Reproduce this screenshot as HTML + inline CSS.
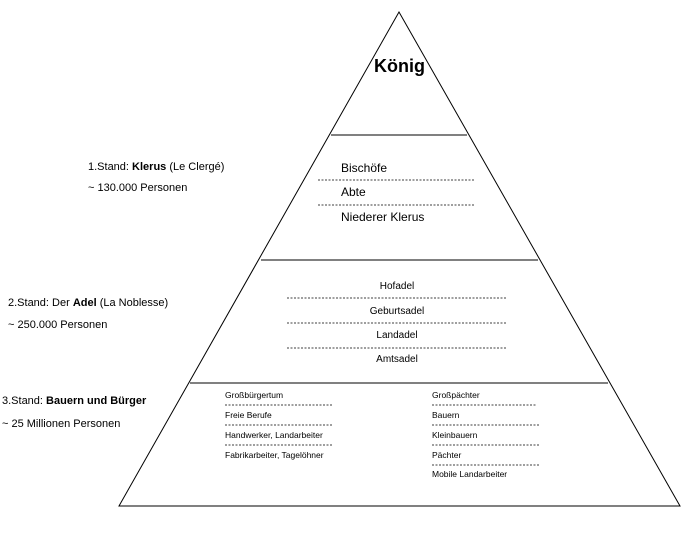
<!DOCTYPE html>
<html><head><meta charset="utf-8"><style>
body{margin:0;background:#fff}
svg text{font-family:"Liberation Sans",Arial,sans-serif;fill:#000}
</style></head><body>
<svg width="685" height="532" viewBox="0 0 685 532" xmlns="http://www.w3.org/2000/svg">
<polygon points="399,12 119,506 680,506" fill="none" stroke="#000" stroke-width="1"/>
<line x1="331" y1="135" x2="467" y2="135" stroke="#000"/>
<line x1="261" y1="260" x2="538" y2="260" stroke="#000"/>
<line x1="190" y1="383" x2="608" y2="383" stroke="#000"/>
<text x="374" y="72" font-size="18" font-weight="bold">König</text>
<g stroke="#000" stroke-dasharray="2,1.5" stroke-width="0.8">
<line x1="318" y1="180" x2="475" y2="180"/><line x1="318" y1="205" x2="475" y2="205"/>
<line x1="287" y1="298" x2="507" y2="298"/><line x1="287" y1="323" x2="507" y2="323"/><line x1="287" y1="348" x2="507" y2="348"/>
<line x1="225" y1="405" x2="332" y2="405"/><line x1="225" y1="425" x2="332" y2="425"/><line x1="225" y1="445" x2="332" y2="445"/>
<line x1="432" y1="405" x2="537" y2="405"/><line x1="432" y1="425" x2="539" y2="425"/><line x1="432" y1="445" x2="539" y2="445"/><line x1="432" y1="465" x2="539" y2="465"/>
</g>
<g font-size="12"><text x="341" y="172">Bischöfe</text><text x="341" y="196">Abte</text><text x="341" y="221">Niederer Klerus</text></g>
<g font-size="10" text-anchor="middle"><text x="397" y="289">Hofadel</text><text x="397" y="314">Geburtsadel</text><text x="397" y="338">Landadel</text><text x="397" y="362">Amtsadel</text></g>
<g font-size="8.5"><text x="225" y="398">Großbürgertum</text><text x="225" y="418">Freie Berufe</text><text x="225" y="438">Handwerker, Landarbeiter</text><text x="225" y="458">Fabrikarbeiter, Tagelöhner</text>
<text x="432" y="398">Großpächter</text><text x="432" y="418">Bauern</text><text x="432" y="438">Kleinbauern</text><text x="432" y="458">Pächter</text><text x="432" y="477">Mobile Landarbeiter</text></g>
<g font-size="11"><text x="88" y="170">1.Stand: <tspan font-weight="bold">Klerus</tspan> (Le Clergé)</text><text x="88" y="191">~ 130.000 Personen</text>
<text x="8" y="306">2.Stand: Der <tspan font-weight="bold">Adel</tspan> (La Noblesse)</text><text x="8" y="328">~ 250.000 Personen</text>
<text x="2" y="404">3.Stand: <tspan font-weight="bold">Bauern und Bürger</tspan></text><text x="2" y="427">~ 25 Millionen Personen</text></g>
</svg>
</body></html>
